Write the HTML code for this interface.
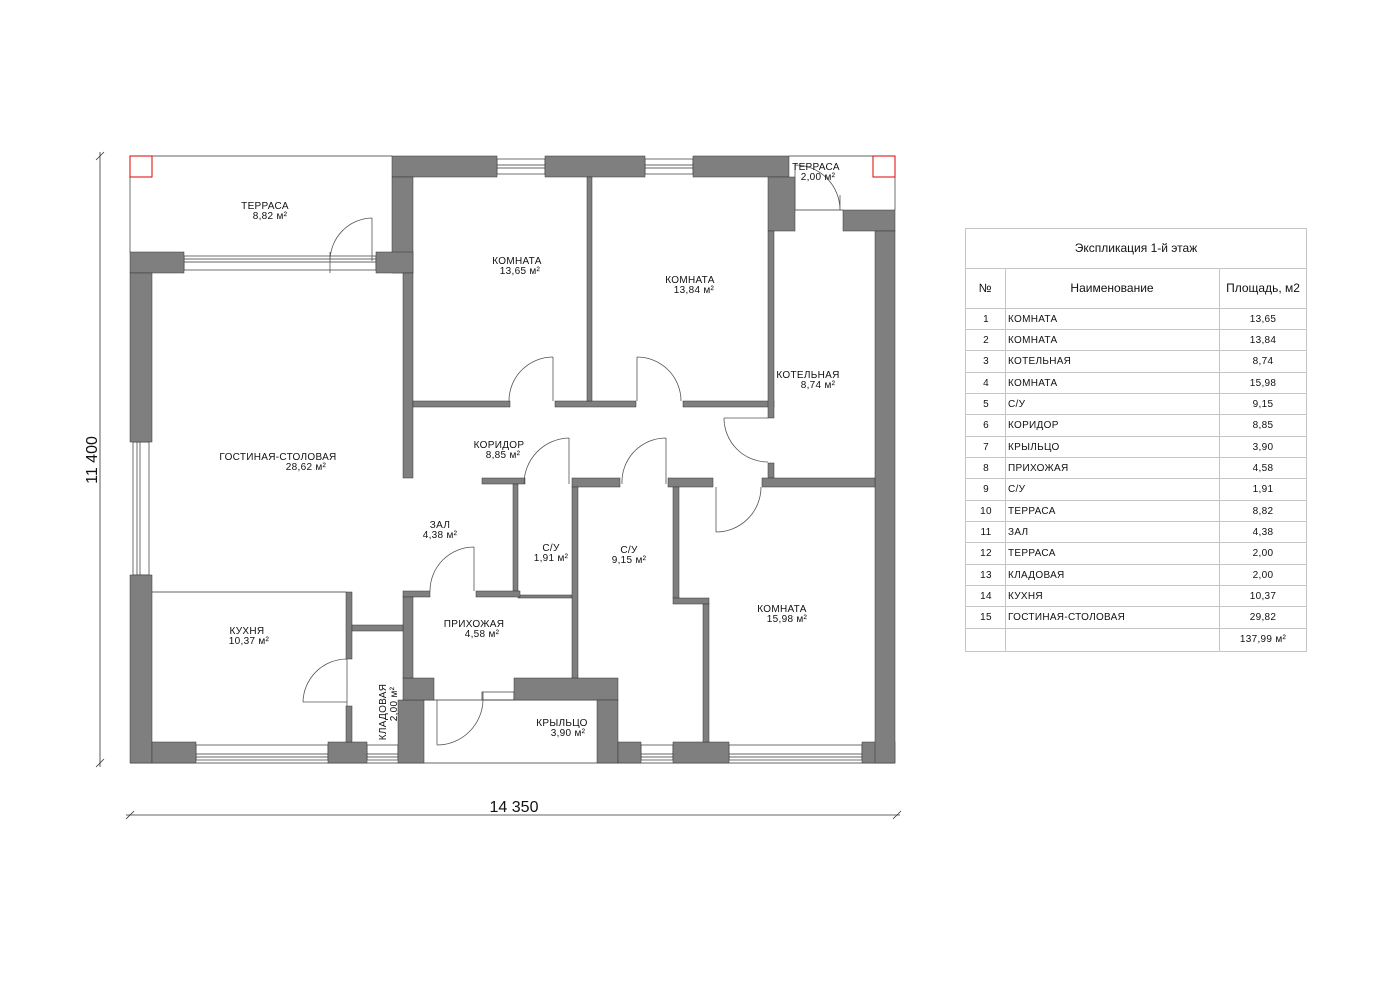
<!DOCTYPE html>
<html><head><meta charset="utf-8"><style>
html,body{margin:0;padding:0;background:#fff}
svg{display:block}
text{font-family:"Liberation Sans",sans-serif;fill:#111}
.w{fill:#7f7f7f;stroke:#333;stroke-width:.5}
.l{stroke:#333;stroke-width:.7;fill:none}
.d{stroke:#555;stroke-width:.8;fill:none}
.t{stroke:#c4c4c4;stroke-width:1;fill:none}
.lb{font-size:10px;text-anchor:middle;letter-spacing:.3px}
.tb{font-size:10px;letter-spacing:.3px}
</style></head><body>
<svg width="1400" height="989" viewBox="0 0 1400 989" xmlns="http://www.w3.org/2000/svg">
<!-- thin outlines -->
<path class="l" d="M130,156 H392 M130,156 V252 M789,156 H895 V210 M789,210 H843 M130,763 H895 M152,592 H346"/>
<!-- windows -->
<g class="l">
<rect x="497" y="159" width="48" height="15" fill="#fff"/><line x1="497" y1="165" x2="545" y2="165"/><line x1="497" y1="168" x2="545" y2="168"/>
<rect x="645" y="159" width="48" height="15" fill="#fff"/><line x1="645" y1="165" x2="693" y2="165"/><line x1="645" y1="168" x2="693" y2="168"/>
<rect x="184" y="256" width="192" height="14" fill="#fff"/><line x1="184" y1="259" x2="376" y2="259"/><line x1="184" y1="262" x2="376" y2="262"/>
<rect x="133" y="442" width="16" height="133" fill="#fff"/><line x1="137" y1="442" x2="137" y2="575"/><line x1="140" y1="442" x2="140" y2="575"/>
<rect x="196" y="745" width="132" height="15" fill="#fff"/><line x1="196" y1="754" x2="328" y2="754"/><line x1="196" y1="757" x2="328" y2="757"/>
<rect x="367" y="745" width="31" height="15" fill="#fff"/><line x1="367" y1="754" x2="398" y2="754"/><line x1="367" y1="757" x2="398" y2="757"/>
<rect x="641" y="745" width="32" height="15" fill="#fff"/><line x1="641" y1="754" x2="673" y2="754"/><line x1="641" y1="757" x2="673" y2="757"/>
<rect x="729" y="745" width="133" height="15" fill="#fff"/><line x1="729" y1="754" x2="862" y2="754"/><line x1="729" y1="757" x2="862" y2="757"/>
<rect x="482" y="692" width="32" height="8" fill="#fff"/>
<line x1="424" y1="700" x2="597" y2="700"/>
</g>
<!-- walls -->
<g class="w">
<rect x="392" y="156" width="105" height="21"/>
<rect x="392" y="177" width="21" height="96"/>
<rect x="376" y="252" width="37" height="21"/>
<rect x="130" y="252" width="54" height="21"/>
<rect x="130" y="273" width="22" height="169"/>
<rect x="130" y="575" width="22" height="188"/>
<rect x="152" y="742" width="44" height="21"/>
<rect x="328" y="742" width="39" height="21"/>
<rect x="398" y="700" width="26" height="63"/>
<rect x="403" y="678" width="31" height="22"/>
<rect x="514" y="678" width="104" height="22"/>
<rect x="597" y="700" width="21" height="63"/>
<rect x="618" y="742" width="23" height="21"/>
<rect x="673" y="742" width="56" height="21"/>
<rect x="862" y="742" width="33" height="21"/>
<rect x="545" y="156" width="100" height="21"/>
<rect x="693" y="156" width="96" height="21"/>
<rect x="768" y="177" width="27" height="54"/>
<rect x="843" y="210" width="52" height="21"/>
<rect x="875" y="231" width="20" height="532"/>
<rect x="403" y="273" width="10" height="205"/>
<rect x="413" y="401" width="97" height="6"/>
<rect x="555" y="401" width="81" height="6"/>
<rect x="683" y="401" width="91" height="6"/>
<rect x="587" y="177" width="5" height="224"/>
<rect x="768" y="231" width="6" height="187"/>
<rect x="768" y="463" width="6" height="15"/>
<rect x="762" y="478" width="113" height="9"/>
<rect x="668" y="478" width="45" height="9"/>
<rect x="572" y="478" width="48" height="9"/>
<rect x="482" y="478" width="43" height="6"/>
<rect x="513" y="484" width="5" height="107"/>
<rect x="518" y="595" width="54" height="3"/>
<rect x="572" y="487" width="6" height="191"/>
<rect x="673" y="487" width="6" height="111"/>
<rect x="673" y="598" width="36" height="6"/>
<rect x="703" y="604" width="6" height="138"/>
<rect x="403" y="591" width="27" height="6"/>
<rect x="476" y="591" width="44" height="6"/>
<rect x="403" y="597" width="10" height="81"/>
<rect x="346" y="592" width="6" height="67"/>
<rect x="346" y="706" width="6" height="36"/>
<rect x="352" y="625" width="51" height="6"/>
</g>
<!-- red corner marks -->
<g stroke="#d00" fill="none" stroke-width="1">
<rect x="130" y="156" width="22" height="21"/><rect x="873" y="156" width="22" height="21"/>
</g>
<!-- doors -->
<g class="d">
<path d="M372,218 V261 M372,218 A43,43 0 0 0 330,261 M330,252 V273"/>
<path d="M553,357 V401 M553,357 A44,44 0 0 0 509,401"/>
<path d="M637,357 V401 M637,357 A44,44 0 0 1 681,401"/>
<path d="M724,418 A44,44 0 0 0 768,462 M724,418 H768"/>
<path d="M569,438 V484 M569,438 A46,46 0 0 0 524,484"/>
<path d="M666,438 V484 M666,438 A44,44 0 0 0 622,484"/>
<path d="M716,487 V532 M716,532 A45,45 0 0 0 761,487"/>
<path d="M474,547 V591 M474,547 A44,44 0 0 0 430,591"/>
<path d="M303,702 H347 M303,702 A44,44 0 0 1 347,659 M347,659 V706"/>
<path d="M437,700 V745 M483,700 A46,46 0 0 1 437,745 M483,692 V700"/>
<path d="M795,165 V210 M795,165 A45,45 0 0 1 840,210 M840,195 V210"/>
</g>
<!-- room labels -->
<g class="lb">
<text x="265" y="209">ТЕРРАСА</text><text x="270" y="219">8,82 м²</text>
<text x="517" y="264">КОМНАТА</text><text x="520" y="274">13,65 м²</text>
<text x="690" y="283">КОМНАТА</text><text x="694" y="293">13,84 м²</text>
<text x="816" y="170">ТЕРРАСА</text><text x="818" y="180">2,00 м²</text>
<text x="808" y="378">КОТЕЛЬНАЯ</text><text x="818" y="388">8,74 м²</text>
<text x="278" y="460">ГОСТИНАЯ-СТОЛОВАЯ</text><text x="306" y="470">28,62 м²</text>
<text x="499" y="448">КОРИДОР</text><text x="503" y="458">8,85 м²</text>
<text x="440" y="528">ЗАЛ</text><text x="440" y="538">4,38 м²</text>
<text x="551" y="551">С/У</text><text x="551" y="561">1,91 м²</text>
<text x="629" y="553">С/У</text><text x="629" y="563">9,15 м²</text>
<text x="474" y="627">ПРИХОЖАЯ</text><text x="482" y="637">4,58 м²</text>
<text x="247" y="634">КУХНЯ</text><text x="249" y="644">10,37 м²</text>
<text x="782" y="612">КОМНАТА</text><text x="787" y="622">15,98 м²</text>
<text x="562" y="726">КРЫЛЬЦО</text><text x="568" y="736">3,90 м²</text>
<text transform="translate(386,712) rotate(-90)">КЛАДОВАЯ</text>
<text transform="translate(397,704) rotate(-90)">2,00 м²</text>
</g>
<!-- dimensions -->
<g stroke="#333" stroke-width=".8">
<line x1="100" y1="152" x2="100" y2="767"/>
<line x1="96" y1="160" x2="104" y2="152"/><line x1="96" y1="767" x2="104" y2="759"/>
<line x1="126" y1="815" x2="900" y2="815"/>
<line x1="126" y1="819" x2="134" y2="811"/><line x1="893" y1="819" x2="901" y2="811"/>
</g>
<text transform="translate(97,460) rotate(-90)" style="font-size:16px;text-anchor:middle">11 400</text>
<text x="514" y="812" style="font-size:16px;text-anchor:middle">14 350</text>
<!-- table -->
<g class="t">
<rect x="965.5" y="228.5" width="341" height="423"/>
<line x1="965" y1="268.5" x2="1307" y2="268.5"/>
<line x1="965" y1="308.5" x2="1307" y2="308.5"/>
<line x1="1005.5" y1="268" x2="1005.5" y2="652"/>
<line x1="1219.5" y1="268" x2="1219.5" y2="652"/>
<line x1="965" y1="329.5" x2="1307" y2="329.5"/><line x1="965" y1="350.5" x2="1307" y2="350.5"/>
<line x1="965" y1="372.5" x2="1307" y2="372.5"/><line x1="965" y1="393.5" x2="1307" y2="393.5"/>
<line x1="965" y1="414.5" x2="1307" y2="414.5"/><line x1="965" y1="436.5" x2="1307" y2="436.5"/>
<line x1="965" y1="457.5" x2="1307" y2="457.5"/><line x1="965" y1="478.5" x2="1307" y2="478.5"/>
<line x1="965" y1="500.5" x2="1307" y2="500.5"/><line x1="965" y1="521.5" x2="1307" y2="521.5"/>
<line x1="965" y1="542.5" x2="1307" y2="542.5"/><line x1="965" y1="564.5" x2="1307" y2="564.5"/>
<line x1="965" y1="585.5" x2="1307" y2="585.5"/><line x1="965" y1="606.5" x2="1307" y2="606.5"/>
<line x1="965" y1="628.5" x2="1307" y2="628.5"/>
</g>
<g style="font-size:12px;text-anchor:middle">
<text x="1136" y="252">Экспликация 1-й этаж</text>
<text x="985" y="292">№</text><text x="1112" y="292">Наименование</text><text x="1263" y="292">Площадь, м2</text>
</g>
<g class="tb">
<g style="text-anchor:middle">
<text x="986" y="322">1</text><text x="986" y="343">2</text><text x="986" y="364">3</text><text x="986" y="386">4</text><text x="986" y="407">5</text><text x="986" y="428">6</text><text x="986" y="450">7</text><text x="986" y="471">8</text><text x="986" y="492">9</text><text x="986" y="514">10</text><text x="986" y="535">11</text><text x="986" y="556">12</text><text x="986" y="578">13</text><text x="986" y="599">14</text><text x="986" y="620">15</text>
<text x="1263" y="322">13,65</text><text x="1263" y="343">13,84</text><text x="1263" y="364">8,74</text><text x="1263" y="386">15,98</text><text x="1263" y="407">9,15</text><text x="1263" y="428">8,85</text><text x="1263" y="450">3,90</text><text x="1263" y="471">4,58</text><text x="1263" y="492">1,91</text><text x="1263" y="514">8,82</text><text x="1263" y="535">4,38</text><text x="1263" y="556">2,00</text><text x="1263" y="578">2,00</text><text x="1263" y="599">10,37</text><text x="1263" y="620">29,82</text>
<text x="1263" y="642">137,99 м²</text>
</g>
<text x="1008" y="322">КОМНАТА</text><text x="1008" y="343">КОМНАТА</text><text x="1008" y="364">КОТЕЛЬНАЯ</text><text x="1008" y="386">КОМНАТА</text><text x="1008" y="407">С/У</text><text x="1008" y="428">КОРИДОР</text><text x="1008" y="450">КРЫЛЬЦО</text><text x="1008" y="471">ПРИХОЖАЯ</text><text x="1008" y="492">С/У</text><text x="1008" y="514">ТЕРРАСА</text><text x="1008" y="535">ЗАЛ</text><text x="1008" y="556">ТЕРРАСА</text><text x="1008" y="578">КЛАДОВАЯ</text><text x="1008" y="599">КУХНЯ</text><text x="1008" y="620">ГОСТИНАЯ-СТОЛОВАЯ</text>
</g>
</svg>
</body></html>
